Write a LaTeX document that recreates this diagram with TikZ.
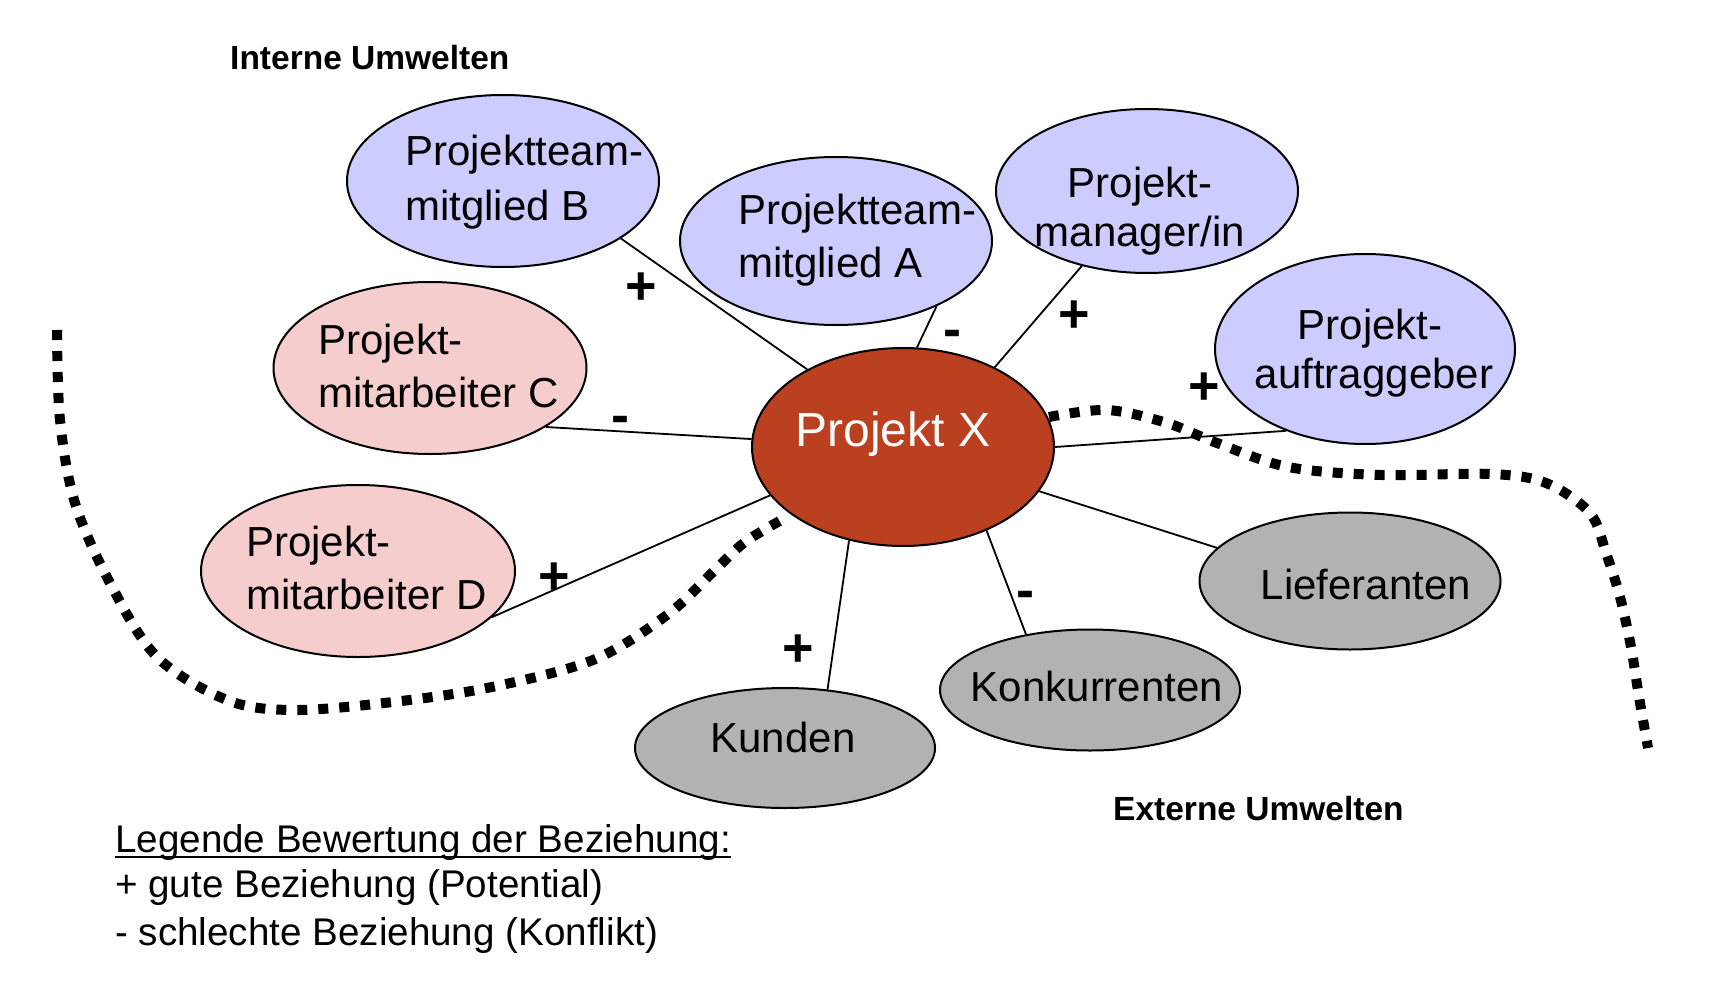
\documentclass[tikz,border=0pt]{standalone}
\usepackage{fontspec}
\setmainfont{Liberation Sans}
\usetikzlibrary{shapes.geometric}
\definecolor{blueE}{RGB}{204,204,255}
\definecolor{pinkE}{RGB}{245,205,205}
\definecolor{greyE}{RGB}{178,178,178}
\definecolor{rustE}{RGB}{187,64,31}
\begin{document}
\begin{tikzpicture}[x=1pt,y=-1pt,
  ell/.style={ellipse, draw=black, line width=2pt, inner sep=0pt},
  lab/.style={font=\fontsize{42}{50}\selectfont, inner sep=0pt},
  head/.style={font=\fontsize{33.5}{40}\selectfont\bfseries, inner sep=0pt, anchor=base west},
  leg/.style={font=\fontsize{38.6}{46}\selectfont, inner sep=0pt, anchor=base west},
  sign/.style={font=\fontsize{54}{60}\selectfont\bfseries, inner sep=0pt, anchor=base},
  conn/.style={line width=1.8pt},
  env/.style={line width=10pt, dash pattern=on 10pt off 11pt}]
\useasboundingbox (0,0) rectangle (1720,987);
\fill[white] (0,0) rectangle (1720,987);

% ellipses
\node[ell, fill=rustE, minimum width=302pt, minimum height=198pt] (X) at (903,447) {};
\node[ell, fill=blueE, minimum width=312pt, minimum height=172pt] (B) at (503,181) {};
\node[ell, fill=blueE, minimum width=312pt, minimum height=168pt] (A) at (836,241) {};
\node[ell, fill=blueE, minimum width=302pt, minimum height=164pt] (PM) at (1147,191) {};
\node[ell, fill=blueE, minimum width=300pt, minimum height=190pt] (AG) at (1365,349) {};
\node[ell, fill=pinkE, minimum width=313pt, minimum height=172pt] (C) at (430,368) {};
\node[ell, fill=pinkE, minimum width=314pt, minimum height=172pt] (D) at (358,571) {};
\node[ell, fill=greyE, minimum width=300pt, minimum height=120pt] (KU) at (785,748) {};
\node[ell, fill=greyE, minimum width=300pt, minimum height=121pt] (KO) at (1090,690) {};
\node[ell, fill=greyE, minimum width=301pt, minimum height=137pt] (LI) at (1350,581) {};

% node texts
\node[lab, anchor=base, text=white, font=\fontsize{48}{56}\selectfont] (Xt) at (893,446) {Projekt X};
\node[lab, anchor=base west] (Bt1) at (405,166) {Projektteam-};
\node[lab, anchor=base west] (Bt2) at (405,220) {mitglied B};
\node[lab, anchor=base west] (At1) at (738,224) {Projektteam-};
\node[lab, anchor=base west] (At2) at (738,277) {mitglied A};
\node[lab, anchor=base] (PMt1) at (1140,197) {Projekt-};
\node[lab, anchor=base] (PMt2) at (1140,246) {manager/in};
\node[lab, anchor=base] (AGt1) at (1370,339) {Projekt-};
\node[lab, anchor=base] (AGt2) at (1374,388) {auftraggeber};
\node[lab, anchor=base west] (Ct1) at (318,354) {Projekt-};
\node[lab, anchor=base west] (Ct2) at (318,407) {mitarbeiter C};
\node[lab, anchor=base west] (Dt1) at (246,556) {Projekt-};
\node[lab, anchor=base west] (Dt2) at (246,609) {mitarbeiter D};
\node[lab, anchor=base] (KUt) at (783,752) {Kunden};
\node[lab, anchor=base] (KOt) at (1097,701) {Konkurrenten};
\node[lab, anchor=base] (LIt) at (1366,599) {Lieferanten};

% connectors
\draw[conn] (X.141.9) -- (B.-26.1);
\draw[conn] (X.82.4) -- (A.-33.3);
\draw[conn] (X.41) -- (PM.229.8);
\draw[conn] (X.-0.75) -- (AG.226.4);
\draw[conn] (X.-18.4) -- (LI.166.7);
\draw[conn] (X.-45.3) -- (KO.139.3);
\draw[conn] (X.240.9) -- (KU.54.7);
\draw[conn] (X.200.7) -- (D.-19.9);
\draw[conn] (X.177.7) -- (C.-27.6);

% signs
\node[sign] (sB) at (641,304) {+};
\node[sign] (sC) at (620,433) {-};
\node[sign] (sA) at (952,347) {-};
\node[sign] (sPM) at (1074,332) {+};
\node[sign] (sAG) at (1204,404) {+};
\node[sign] (sD) at (554,594) {+};
\node[sign] (sKU) at (798,666) {+};
\node[sign] (sKO) at (1025,608) {-};

% environment boundaries
\draw[env] plot[smooth, tension=0.55] coordinates {(57,330) (60,420) (75,503) (110,583) (157,657) (227,700) (291,710) (384,703) (487,688) (593,660) (667,615) (713,572) (745,542) (785,518)};
\draw[env] plot[smooth, tension=0.55] coordinates {(1049,417) (1107,410) (1167,423) (1217,443) (1288,467) (1381,475) (1491,474) (1546,483) (1590,513) (1606,553) (1620,597) (1631,647) (1639,697) (1648,748)};

% headings
\node[head] (IU) at (230,70) {Interne Umwelten};
\node[head] (EU) at (1113,820) {Externe Umwelten};

% legend
\node[leg] (L1) at (115,852) {Legende Bewertung der Beziehung:};
\draw[line width=2.5pt] ([yshift=-5pt]L1.base west) -- ([yshift=-5pt]L1.base east);
\node[leg] (L2) at (115,897) {+ gute Beziehung (Potential)};
\node[leg] (L3) at (115,945) {- schlechte Beziehung (Konflikt)};
\end{tikzpicture}
\end{document}
